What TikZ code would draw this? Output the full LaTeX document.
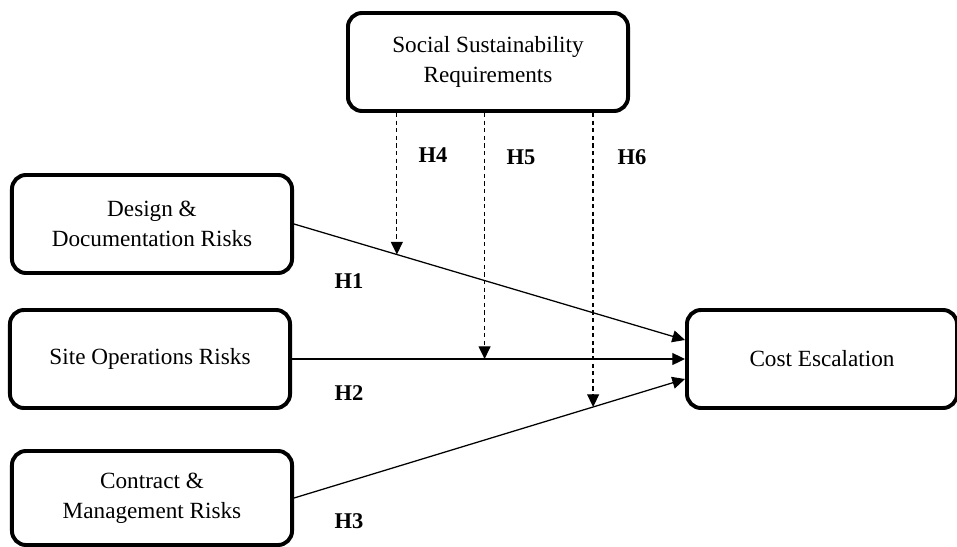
\documentclass[tikz,border=0pt]{standalone}
\usepackage{fontspec}
\setmainfont{Liberation Serif}
\usepackage{tikz}
\usetikzlibrary{arrows.meta, positioning}

\begin{document}
\begin{tikzpicture}[x=0.025cm, y=-0.025cm,
    riskbox/.style={draw, line width=2.8pt, rounded corners=10pt, align=center,
      minimum width=7cm, minimum height=2.45cm, inner sep=0pt,
      font=\fontsize{16.5}{21.5}\selectfont},
    path/.style={line width=0.9pt, -{Triangle[length=9pt, width=8.5pt]}},
    moder/.style={path, dash pattern=on 3pt off 2.4pt},
    hyp/.style={font=\fontsize{16}{19}\selectfont\bfseries}]
  \useasboundingbox (0,0) rectangle (957,546);
  \node[riskbox] (soc) at (488,62) {Social Sustainability\\Requirements};
  \node[riskbox] (des) at (152,224) {Design \&\\Documentation Risks};
  \node[riskbox] (site) at (150,359) {Site Operations Risks};
  \node[riskbox, minimum height=2.35cm] (con) at (152,498) {Contract \&\\Management Risks};
  \node[riskbox, minimum width=6.75cm] (cost) at (822,359) {Cost Escalation};

  \draw[path] (des.east) -- coordinate[pos=0.263] (t4) ([yshift=0.475cm]cost.west);
  \draw[path] (site.east) -- coordinate[pos=0.49] (t5) (cost.west);
  \draw[path] (con.east) -- coordinate[pos=0.765] (t6) ([yshift=-0.5cm]cost.west);

  \draw[moder] (t4 |- soc.south) -- (t4);
  \draw[moder] (t5 |- soc.south) -- (t5);
  \draw[moder] (t6 |- soc.south) -- (t6);

  \foreach \n/\x/\y in {H4/433/155, H5/521/157, H6/632/157, H1/349/281, H2/349/393, H3/349/521}
    \node[hyp] (\n) at (\x,\y) {\n};
\end{tikzpicture}
\end{document}
